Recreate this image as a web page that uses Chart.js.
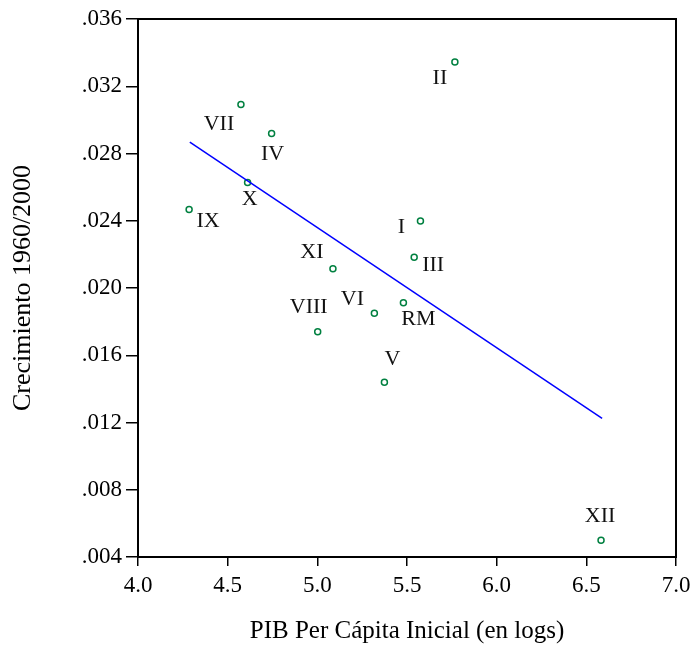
<!DOCTYPE html>
<html>
<head>
<meta charset="utf-8">
<script src="https://cdn.jsdelivr.net/npm/chart.js@4"></script>
<style>
  body { margin: 0; background: #fff; }
</style>
</head>
<body>
<canvas id="myChart" width="692" height="650"></canvas>
<script>
// regiones de Chile
const regions = ['I', 'II', 'III', 'IV', 'V', 'VI', 'VII', 'VIII', 'IX', 'X', 'XI', 'XII', 'RM'];
const pibInicial = [5.575, 5.767, 5.540, 4.745, 5.374, 5.318, 4.574, 5.002, 4.285, 4.611, 5.087, 6.582, 5.480];
const crecimiento = [0.02398, 0.03344, 0.02183, 0.02919, 0.01439, 0.0185, 0.03092, 0.0174, 0.02467, 0.02627, 0.02115, 0.0050, 0.01913];

// recta de regresion (extremos)
const fitX = [4.289, 6.588];
const fitY = [0.02868, 0.01225];

const xTicks = [4.0, 4.5, 5.0, 5.5, 6.0, 6.5, 7.0];
const yTicks = [0.004, 0.008, 0.012, 0.016, 0.020, 0.024, 0.028, 0.032, 0.036];

// donde va cada etiqueta respecto al punto (px)
const labelOffsets = [[-19, 6], [-15, 16], [19, 8], [1, 21], [8, -23], [-22, -14], [-22, 20],
    [-9, -24], [19, 12], [2, 17], [-21, -16], [-1, -24], [15, 17]];

Chart.defaults.font.family = '"Liberation Serif", "Times New Roman", serif';
Chart.defaults.color = '#000';

const frame = {
    id: 'frame',
    afterDraw(chart) {
        const { ctx, chartArea: a } = chart;
        ctx.save();
        ctx.strokeStyle = '#000';
        ctx.lineWidth = 2;
        ctx.strokeRect(a.left, a.top, a.right - a.left, a.bottom - a.top);
        ctx.restore();
    }
};

const pointLabels = {
    id: 'pointLabels',
    afterDatasetsDraw(chart) {
        const { ctx } = chart;
        const meta = chart.getDatasetMeta(0);
        ctx.save();
        ctx.font = '22px "Liberation Serif"';
        ctx.fillStyle = '#111';
        ctx.textAlign = 'center';
        ctx.textBaseline = 'middle';
        meta.data.forEach((pt, i) => {
            const [dx, dy] = labelOffsets[i];
            ctx.fillText(regions[i], pt.x + dx, pt.y + dy);
        });
        ctx.restore();
    }
};

const ctx = document.getElementById('myChart').getContext('2d');
new Chart(ctx, {
    type: 'scatter',
    data: {
        datasets: [{
            label: 'Regiones',
            data: pibInicial.map((x, i) => ({ x: x, y: crecimiento[i] })),
            pointStyle: 'circle',
            pointRadius: 3,
            pointBorderWidth: 1.5,
            borderColor: '#008040',
            backgroundColor: '#fff',
            order: 2
        }, {
            type: 'line',
            label: 'Ajuste',
            data: fitX.map((x, i) => ({ x: x, y: fitY[i] })),
            borderColor: '#0000ff',
            borderWidth: 1.5,
            pointRadius: 0,
            fill: false,
            order: 1
        }]
    },
    options: {
        responsive: false,
        animation: false,
        layout: { padding: { left: 0, right: 16, top: 19, bottom: 0 } },
        plugins: {
            legend: { display: false },
            tooltip: { enabled: false }
        },
        scales: {
            x: {
                type: 'linear',
                min: 4,
                max: 7,
                afterBuildTicks: s => { s.ticks = xTicks.map(v => ({ value: v })); },
                afterFit: s => {
                    s.height = 93;
                    s.paddingLeft = 0;
                    s.paddingRight = 0;
                },
                border: { display: false },
                grid: { drawOnChartArea: false, tickLength: 9, color: '#000', lineWidth: 1.5 },
                ticks: {
                    font: { size: 23 },
                    padding: 6,
                    maxRotation: 0,
                    callback: v => Number(v).toFixed(1)
                },
                title: {
                    display: true,
                    text: 'PIB Per Cápita Inicial (en logs)',
                    font: { size: 25 },
                    padding: { top: 0, bottom: 4 }
                }
            },
            y: {
                type: 'linear',
                min: 0.004,
                max: 0.036,
                afterBuildTicks: s => { s.ticks = yTicks.map(v => ({ value: v })); },
                afterFit: s => {
                    s.width = 138;
                    s.paddingTop = 0;
                    s.paddingBottom = 0;
                },
                border: { display: false },
                grid: { drawOnChartArea: false, tickLength: 12, color: '#000', lineWidth: 1.5 },
                ticks: {
                    font: { size: 23 },
                    padding: 4,
                    callback: v => Number(v).toFixed(3).replace(/^0/, '')
                },
                title: {
                    display: true,
                    text: 'Crecimiento 1960/2000',
                    font: { size: 26 },
                    padding: { top: 8, bottom: 0 }
                }
            }
        }
    },
    plugins: [frame, pointLabels]
});
</script>
</body>
</html>
